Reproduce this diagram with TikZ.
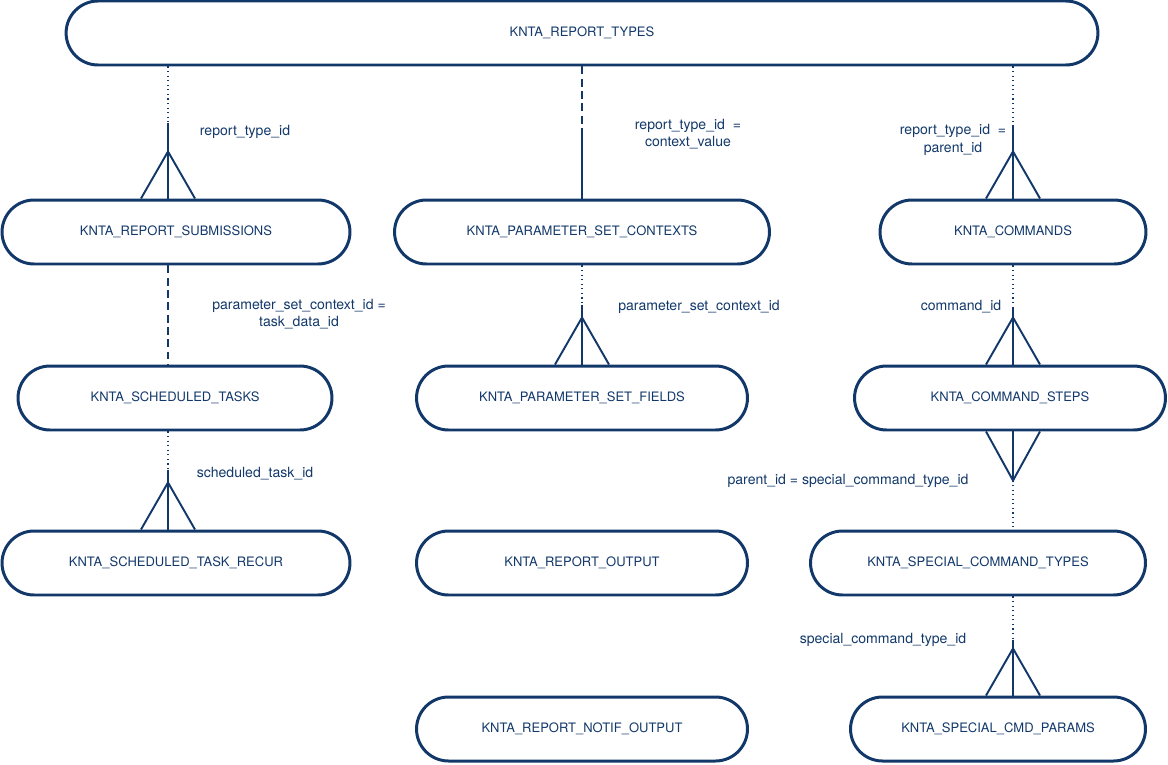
\documentclass[tikz,border=0pt]{standalone}
\usepackage{fontspec}
\setmainfont{TeX Gyre Heros}
\usepackage{tikz}
\usetikzlibrary{calc,positioning}
\definecolor{erblue}{HTML}{12386A}
\tikzstyle{entity}  = [draw=erblue, line width=1.7pt, rounded corners=0.64cm, minimum height=1.28cm, minimum width=#1, inner sep=0pt, text=erblue, font=\fontsize{7.4}{9}\selectfont]
\tikzstyle{rel}     = [draw=erblue, line width=1.1pt]
\tikzstyle{dotline} = [draw=erblue, line width=0.6pt, dotted]
\tikzstyle{dashline}= [draw=erblue, line width=1.4pt, dash pattern=on 4.5pt off 2.5pt]
\tikzstyle{lbl}     = [text=erblue, font=\fontsize{8}{10}\selectfont, align=center, inner sep=0pt]

\begin{document}
\begin{tikzpicture}[x=0.02cm,y=-0.02cm]
		\useasboundingbox (0,0) rectangle (1168,764);

		% entities
		\node[entity=20.64cm] (types)  at (582,33)  {KNTA\_REPORT\_TYPES};
		\node[entity=6.96cm]  (sub)    at (176,232) {KNTA\_REPORT\_SUBMISSIONS};
		\node[entity=7.5cm]   (ctx)    at (582,232) {KNTA\_PARAMETER\_SET\_CONTEXTS};
		\node[entity=5.32cm]  (cmd)    at (1013,232) {KNTA\_COMMANDS};
		\node[entity=6.28cm]  (sched)  at (175,398) {KNTA\_SCHEDULED\_TASKS};
		\node[entity=6.62cm]  (fields) at (582,398) {KNTA\_PARAMETER\_SET\_FIELDS};
		\node[entity=6.22cm]  (steps)  at (1010,398) {KNTA\_COMMAND\_STEPS};
		\node[entity=6.96cm]  (recur)  at (176,563) {KNTA\_SCHEDULED\_TASK\_RECUR};
		\node[entity=6.62cm]  (output) at (582,563) {KNTA\_REPORT\_OUTPUT};
		\node[entity=6.7cm]   (spec)   at (978,563) {KNTA\_SPECIAL\_COMMAND\_TYPES};
		\node[entity=6.62cm]  (notif)  at (582,729) {KNTA\_REPORT\_NOTIF\_OUTPUT};
		\node[entity=5.9cm]   (params) at (998,729) {KNTA\_SPECIAL\_CMD\_PARAMS};

		% attachment points
		\coordinate (k1) at ($(sub.north)+(-8,0)$);
		\coordinate (k2) at (ctx.north);
		\coordinate (k3) at (cmd.north);
		\coordinate (k4) at ($(sub.south)+(-8,0)$);
		\coordinate (k5) at (fields.north);
		\coordinate (k6) at (steps.north -| cmd.south);
		\coordinate (k7) at (steps.south -| cmd.south);
		\coordinate (k8) at (recur.north -| k4);
		\coordinate (k9) at (params.north -| cmd.south);

		% relationships
		\draw[dotline] (types.south -| k1) -- ($(k1)+(0,-76)$) coordinate (m1);
		\draw[rel] (m1) -- (k1);
		\draw[dashline] (types.south -| k2) -- ($(k2)+(0,-69)$) coordinate (m2);
		\draw[rel] (m2) -- (k2);
		\draw[dotline] (types.south -| k3) -- ($(k3)+(0,-74)$) coordinate (m3);
		\draw[rel] (m3) -- (k3);
		\draw[dashline] (k4) -- (sched.north -| k4);
		\draw[dotline] (ctx.south) -- ($(k5)+(0,-60)$) coordinate (m5);
		\draw[rel] (m5) -- (k5);
		\draw[dotline] (cmd.south) -- ($(k6)+(0,-57)$) coordinate (m6);
		\draw[rel] (m6) -- (k6);
		\draw[rel] (k7) -- ($(k7)+(0,49)$) coordinate (m7);
		\draw[dotline] (m7) -- (spec.north -| k7);
		\draw[dotline] (sched.south -| k4) -- ($(k8)+(0,-60)$) coordinate (m8);
		\draw[rel] (m8) -- (k8);
		\draw[dotline] (spec.south -| k9) -- ($(k9)+(0,-56)$) coordinate (m9);
		\draw[rel] (m9) -- (k9);

		% crow's feet
		\foreach \k in {k1,k3,k5,k6,k8,k9}
			\draw[rel] ($(\k)+(-27,0)$) -- ($(\k)+(0,-47)$) -- ($(\k)+(27,0)$);
		\draw[rel] ($(k7)+(-27,0)$) -- (m7) -- ($(k7)+(27,0)$);

		% labels
		\node[lbl] (l1) at (245,132) {report\_type\_id};
		\node[lbl] (l2) at (688,134) {report\_type\_id\ \ =\\context\_value};
		\node[lbl] (l3) at (953,140) {report\_type\_id\ \ =\\parent\_id};
		\node[lbl] (l4) at (299,314) {parameter\_set\_context\_id =\\task\_data\_id};
		\node[lbl] (l5) at (699,307) {parameter\_set\_context\_id};
		\node[lbl] (l6) at (961,307) {command\_id};
		\node[lbl] (l7) at (848,481) {parent\_id = special\_command\_type\_id};
		\node[lbl] (l8) at (255,474) {scheduled\_task\_id};
		\node[lbl] (l9) at (883,640) {special\_command\_type\_id};
	\end{tikzpicture}
\end{document}
